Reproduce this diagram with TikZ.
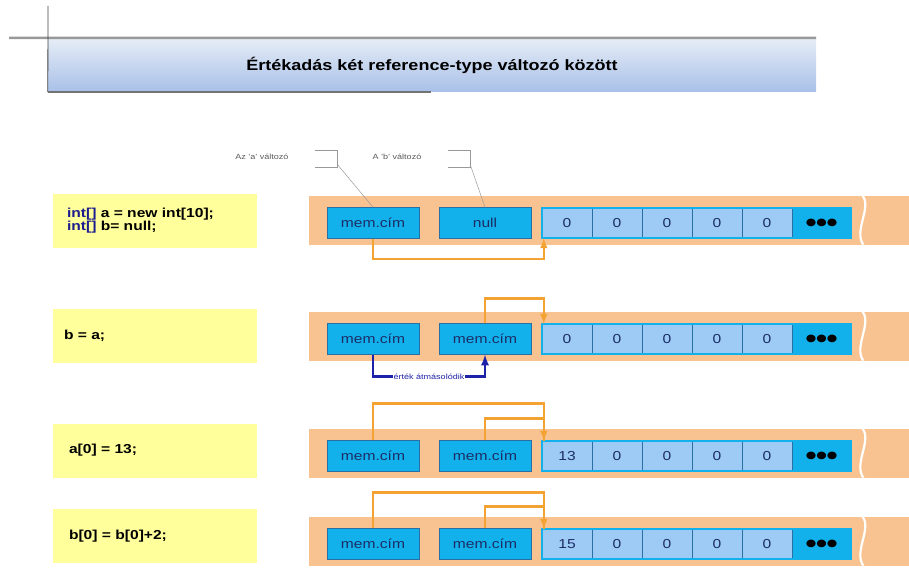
\documentclass[tikz,border=0pt]{standalone}
\usepackage{fontspec}
\setmainfont{Liberation Sans}[FakeStretch=1.2]
\newfontfamily\symfont{DejaVu Sans}[FakeStretch=1.2]
\usepackage{xcolor}
\usetikzlibrary{arrows,positioning,calc}

\definecolor{bandorange}{HTML}{F9C391}
\definecolor{memcyan}{HTML}{12B1EC}
\definecolor{cellblue}{HTML}{9DCBF6}
\definecolor{celledge}{HTML}{2A6FA3}
\definecolor{codeyellow}{HTML}{FFFF9C}
\definecolor{codenavy}{HTML}{1C1C8E}
\definecolor{ptrorange}{HTML}{F4A232}
\definecolor{copyblue}{HTML}{1E22A8}
\definecolor{textnavy}{HTML}{1C2D66}
\definecolor{titletop}{HTML}{E6EDF6}
\definecolor{titlebot}{HTML}{A8C0E8}

\tikzset{
  band/.style={rectangle, fill=bandorange, minimum width=601pt, minimum height=49pt, inner sep=0pt},
  memcell/.style={rectangle, draw=celledge, fill=memcyan, minimum width=92pt, minimum height=31pt, inner sep=0pt, text=textnavy, font=\fontsize{13}{13}\selectfont},
  arraycell/.style={rectangle, draw=celledge, fill=cellblue, minimum width=50pt, minimum height=30pt, inner sep=0pt, text=textnavy, font=\fontsize{13}{13}\selectfont},
  dotcell/.style={arraycell, fill=memcyan, minimum width=59pt, text=black, font=\symfont\fontsize{10}{10}\selectfont},
  codebox/.style={rectangle, fill=codeyellow, minimum width=204pt, minimum height=54pt, inner sep=0pt},
  codetext/.style={anchor=west, inner sep=0pt, align=left, font=\bfseries\fontsize{13}{11.5}\selectfont},
  titlebox/.style={rectangle, top color=titletop, bottom color=titlebot, minimum width=768pt, minimum height=54pt, inner sep=0pt, font=\bfseries\fontsize{15}{15}\selectfont},
  calltext/.style={text=black!65, inner sep=0pt, font=\fontsize{7.5}{7.5}\selectfont},
  callout/.style={draw=black!40, line width=0.5pt},
  ptr/.style={draw=ptrorange, line width=2.4pt, -latex},
  ptrline/.style={draw=ptrorange, line width=2.4pt},
  copyarrow/.style={draw=copyblue, line width=2.6pt, -latex},
}

\begin{document}
\begin{tikzpicture}[x=1pt, y=-1pt]
    \useasboundingbox (0,0) rectangle (909,567);

    % Title
    \node[titlebox] (title) at (432,65) {Értékadás két reference-type változó között};
    \coordinate (rulestart) at (9,38);
    \coordinate (linetop) at (48,6);
    \draw[black!40, line width=2.5pt] (rulestart) -- (title.north east);
    \draw[black!75, line width=0.8pt] (linetop) -- (title.south west);
    \draw[black!55, line width=1.5pt] (title.south west) -- ++(383,0);

    % Memory rows
    \foreach \r/\y/\first/\second in {1/223/0/null, 2/339/0/mem.cím, 3/456/13/mem.cím, 4/544/15/mem.cím} {
        \node[band] (band\r) at (609,\y-3) {};
        \draw[white, line width=2.2pt] ($(band\r.north west)+(554,0)$) .. controls +(10,12) and +(-10,-14) .. ($(band\r.south west)+(555,0)$);
        \node[memcell] (ma\r) at (373,\y) {mem.cím};
        \node[memcell] (mb\r) at (485,\y) {\second};
        \foreach \v [count=\i] in {\first,0,0,0,0}
            \node[arraycell] (a\r-\i) at (517+50*\i,\y) {\v};
        \node[dotcell] (a\r-6) at (821.5,\y) {●●●};
        \draw[memcyan, line width=2pt] (a\r-1.north west) rectangle (a\r-6.south east);
    }

    % Code
    \node[codebox] (code1) at (155,220.5) {};
    \node[codebox] (code2) at (155,336) {};
    \node[codebox] (code3) at (155,450.5) {};
    \node[codebox] (code4) at (155,536) {};
    \node[codetext] (text1) at ([xshift=14pt]code1.west) {\textcolor{codenavy}{int[]} a = new int[10];\\\textcolor{codenavy}{int[]} b= null;};
    \node[codetext] (text2) at ([xshift=11pt]code2.west) {b = a;};
    \node[codetext] (text3) at ([xshift=16pt]code3.west) {a[0] = 13;};
    \node[codetext] (text4) at ([xshift=16pt]code4.west) {b[0] = b[0]+2;};

    % Callouts
    \node[calltext] (nameA) at (262,157) {Az 'a' változó};
    \node[calltext] (nameB) at (397,157) {A 'b' változó};
    \draw[callout] (315,150) -- (337,150) -- (337,167) -- (315,167);
    \draw[callout] (448,150) -- (470,150) -- (470,167) -- (448,167);
    \coordinate (accA) at (337,164);
    \coordinate (accB) at (470,164);
    \draw[callout] (accA) -- (ma1.north);
    \draw[callout] (accB) -- (mb1.north);

    % References
    \draw[ptr] (ma1.south) -- ++(0,20) -| ([xshift=2pt]a1-1.south west);
    \draw[ptr] (mb2.north) -- ++(0,-25) -| ([xshift=2pt]a2-1.north west);
    \draw[copyarrow] (ma2.south) -- ++(0,22) -| node[pos=0.25, fill=white, inner sep=1pt, text=copyblue, font=\fontsize{7.5}{7.5}\selectfont] {érték átmásolódik} (mb2.south);
    \draw[ptrline] (mb3.north) -- ++(0,-22) -| ([xshift=2pt]a3-1.north west);
    \draw[ptr] (ma3.north) -- ++(0,-37) -| ([xshift=2pt]a3-1.north west);
    \draw[ptrline] (mb4.north) -- ++(0,-22) -| ([xshift=2pt]a4-1.north west);
    \draw[ptr] (ma4.north) -- ++(0,-36) -| ([xshift=2pt]a4-1.north west);
\end{tikzpicture}
\end{document}
